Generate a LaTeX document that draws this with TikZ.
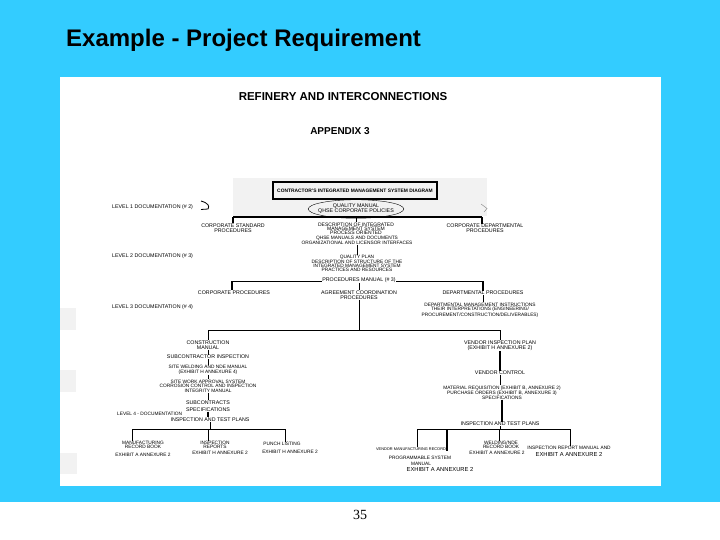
\documentclass[tikz,border=0pt]{standalone}
\usepackage{fontspec}
\setmainfont{Liberation Sans}
\newfontfamily\numfont{Liberation Serif}
\usetikzlibrary{shapes.geometric}
\definecolor{bgcyan}{HTML}{33CCFF}
\definecolor{scan}{HTML}{F2F2F2}
\newcommand\ds{\fontsize{5.3}{4.8}\selectfont}
\newcommand\dsn{\fontsize{4.8}{4.4}\selectfont}
\begin{document}
\begin{tikzpicture}[x=1pt,y=-1pt,
  t/.style={font=\ds,align=center,inner sep=0.3pt},
  tn/.style={font=\dsn,align=center,inner sep=0.3pt},
  lv/.style={font=\ds,anchor=west,inner sep=0pt},
  ln/.style={line width=0.7pt},
  tk/.style={line width=1.6pt}]
\useasboundingbox (0,0) rectangle (720,540);
\fill[white] (0,0) rectangle (720,540);
\fill[bgcyan] (0,0) rectangle (720,502);
\fill[white] (60,77) rectangle (661,486);
% scan shading
\fill[scan] (233,178) rectangle (487,216);
\fill[scan] (60,308) rectangle (76,330);
\fill[scan] (60,370) rectangle (76,392);
\fill[scan] (60,453) rectangle (77,474);

\node[anchor=base west,font=\fontsize{24}{28}\selectfont\bfseries,inner sep=0] (title) at (66,47) {Example - Project Requirement};
\node[font=\numfont\fontsize{14}{16}\selectfont,inner sep=0] (pg) at (360,515) {35};

\node[font=\fontsize{11.5}{13}\selectfont\bfseries,anchor=base,inner sep=0] (head) at (343,100.5) {REFINERY AND INTERCONNECTIONS};
\node[font=\fontsize{10}{12}\selectfont\bfseries,anchor=base,inner sep=0] (app) at (340,134.5) {APPENDIX 3};

% level labels
\node[lv] (l1) at (112,207.5) {LEVEL 1 DOCUMENTATION (\# 2)};
\node[lv] (l2) at (112,256) {LEVEL 2 DOCUMENTATION (\# 3)};
\node[lv] (l3) at (112,307.5) {LEVEL 3 DOCUMENTATION (\# 4)};
\node[lv,font=\dsn] (l4) at (117,414) {LEVEL 4 - DOCUMENTATION};
\draw[line width=0.8pt] (201,201) .. controls (208,203) and (210,206) .. (208,209) -- (201,209.5);
\draw[line width=0.4pt,gray] (481,204) -- (487,208.5) -- (484,212);

% level 1
\node[draw,line width=1.3pt,minimum width=164pt,minimum height=17pt,font=\fontsize{4.9}{5}\selectfont\bfseries,inner sep=0] (sys) at (355,190.5) {CONTRACTOR'S INTEGRATED MANAGEMENT SYSTEM DIAGRAM};
\node[ellipse,draw,line width=0.4pt,t,inner xsep=-4pt,inner ysep=1.8pt] (qm) at (356,209) {QUALITY MANUAL\\QHSE CORPORATE POLICIES};
\node[t] (corp) at (233,228) {CORPORATE STANDARD\\PROCEDURES};
\node[t] (cdp) at (485,228.5) {CORPORATE DEPARTMENTAL\\PROCEDURES};
\node[tn,font=\fontsize{5}{3.8}\selectfont] (dsc) at (356,228.5) {DESCRIPTION OF INTEGRATED\\MANAGEMENT SYSTEM\\PROCESS ORIENTED};
\node[tn] (qhse) at (357,240.5) {QHSE MANUALS AND DOCUMENTS\\ORGANIZATIONAL AND LICENSOR INTERFACES};

% level 2
\node[tn,font=\fontsize{4.8}{4.3}\selectfont] (qp) at (357,263.5) {QUALITY PLAN\\DESCRIPTION OF STRUCTURE OF THE\\INTEGRATED MANAGEMENT SYSTEM\\PRACTICES AND RESOURCES};
\node[t] (proc) at (359,280) {PROCEDURES MANUAL (\# 3)};
\node[t] (agr) at (359,295) {AGREEMENT COORDINATION\\PROCEDURES};
\node[t] (cproc) at (234,292.5) {CORPORATE PROCEDURES};
\node[t] (dproc) at (483,293) {DEPARTMENTAL PROCEDURES};
\node[tn] (dmi) at (480,310) {DEPARTMENTAL MANAGEMENT INSTRUCTIONS\\THEIR INTERPRETATIONS (ENGINEERING/\\PROCUREMENT/CONSTRUCTION/DELIVERABLES)};

% level 3 left
\node[t] (cm) at (208,345) {CONSTRUCTION\\MANUAL};
\node[t] (sci) at (208,357) {SUBCONTRACTOR INSPECTION};
\node[tn] (swn) at (208,370) {SITE WELDING AND NDE MANUAL\\(EXHIBIT H ANNEXURE 4)};
\node[tn] (swa) at (208,386) {SITE WORK APPROVAL SYSTEM\\CORROSION CONTROL AND INSPECTION\\INTEGRITY MANUAL};
\node[t,font=\fontsize{5.3}{6.5}\selectfont] (sub) at (208,406) {SUBCONTRACTS\\SPECIFICATIONS};
\node[t] (itp1) at (210,419.5) {INSPECTION AND TEST PLANS};

% level 3 right
\node[t] (vip) at (500,345.5) {VENDOR INSPECTION PLAN\\(EXHIBIT H ANNEXURE 2)};
\node[t] (vc) at (500,373) {VENDOR CONTROL};
\node[tn] (mr) at (502,392.5) {MATERIAL REQUISITION (EXHIBIT B, ANNEXURE 2)\\PURCHASE ORDERS (EXHIBIT B, ANNEXURE 3)\\SPECIFICATIONS};
\node[t] (itp2) at (500,424) {INSPECTION AND TEST PLANS};

% level 4 left
\node[tn] (mrb) at (143,445) {MANUFACTURING\\RECORD BOOK};
\node[tn] (mrbx) at (143,455) {EXHIBIT A ANNEXURE 2};
\node[tn] (ir) at (215,445) {INSPECTION\\REPORTS};
\node[tn] (irx) at (220,453) {EXHIBIT H ANNEXURE 2};
\node[tn] (pl) at (282,444) {PUNCH LISTING};
\node[tn] (plx) at (290,452) {EXHIBIT H ANNEXURE 2};

% level 4 right
\node[tn,font=\fontsize{3.9}{4}\selectfont] (vmr) at (411,449) {VENDOR MANUFACTURING RECORD};
\node[tn] (pgs) at (420,458) {PROGRAMMABLE SYSTEM};
\node[tn] (pgm) at (421,464) {MANUAL};
\node[t,font=\fontsize{5.8}{6}\selectfont] (pgx) at (440,470) {EXHIBIT A ANNEXURE 2};
\node[tn] (wrb) at (501,445) {WELDING/NDE\\RECORD BOOK};
\node[tn] (wrbx) at (497,453) {EXHIBIT A ANNEXURE 2};
\node[tn] (irm) at (569,448) {INSPECTION REPORT MANUAL AND};
\node[t,font=\fontsize{5.8}{6}\selectfont] (irmx) at (569,455) {EXHIBIT A ANNEXURE 2};

% connectors level 1
\coordinate (b1l) at (233,217);
\coordinate (b1r) at (482,217);
\draw[ln] (sys.south) -- (qm.north);
\draw[tk] (b1l) -- (b1r);
\draw[tk] (b1l) -- (corp.north);
\draw[tk] (b1r) -- (b1r |- cdp.north);
\draw[ln] (qm.south) -- (dsc.north);
\draw[ln] (qhse.south) -- (qp.north);
% level 2
\coordinate (b3l) at (232,281.5);
\coordinate (b3r) at (483,281.5);
\draw[tk] (proc.west |- b3l) -- (b3l) -- (b3l |- cproc.north);
\draw[tk] (proc.east |- b3r) -- (b3r) -- (dproc.north);
\draw[ln] (dproc.south) -- (dproc.south |- dmi.north);
\draw[ln] (proc.south) -- (proc.south |- agr.north);
\coordinate (b2l) at (208,330);
\coordinate (b2r) at (500,330);
\draw[ln] (agr.south) -- (agr.south |- b2l);
\draw[ln] (cm.north) -- (b2l) -- (b2r) -- (vip.north);
% level 3 left
\draw[ln] (cm.south) -- (sci.north);
\draw[ln] (sci.south) -- (swn.north);
\draw[ln] (swn.south) -- (swa.north);
\draw[ln] (swa.south) -- (sub.north);
\draw[tk] (sub.south) -- (sub.south |- itp1.north);
% level 3 right
\draw[tk] (vip.south) -- (vc.north);
\draw[ln] (vc.south) -- (vc.south |- mr.north);
\draw[tk] (mr.south) -- (mr.south |- itp2.north);
% level 4 left
\coordinate (b4l) at (132,429);
\coordinate (b4m) at (208,429);
\coordinate (b4r) at (285,429);
\draw[ln] (itp1.south) -- (itp1.south |- b4m);
\draw[ln] (b4l) -- (b4r);
\draw[ln] (b4l) -- (b4l |- mrb.north);
\draw[ln] (b4m) -- (b4m |- ir.north);
\draw[ln] (b4r) -- (b4r |- pl.north);
% level 4 right
\coordinate (b5l) at (417,429);
\coordinate (b5a) at (447,429);
\coordinate (b5b) at (499,429);
\coordinate (b5r) at (570,429);
\draw[ln] (itp2.south) -- (itp2.south |- b5b);
\draw[ln] (b5l) -- (b5r);
\draw[ln] (b5l) -- (b5l |- vmr.north);
\draw[tk] (b5a) -- (b5a |- vmr.south);
\draw[ln] (b5b) -- (b5b |- wrb.north);
\draw[ln] (b5r) -- (b5r |- irm.north);
\end{tikzpicture}
\end{document}
